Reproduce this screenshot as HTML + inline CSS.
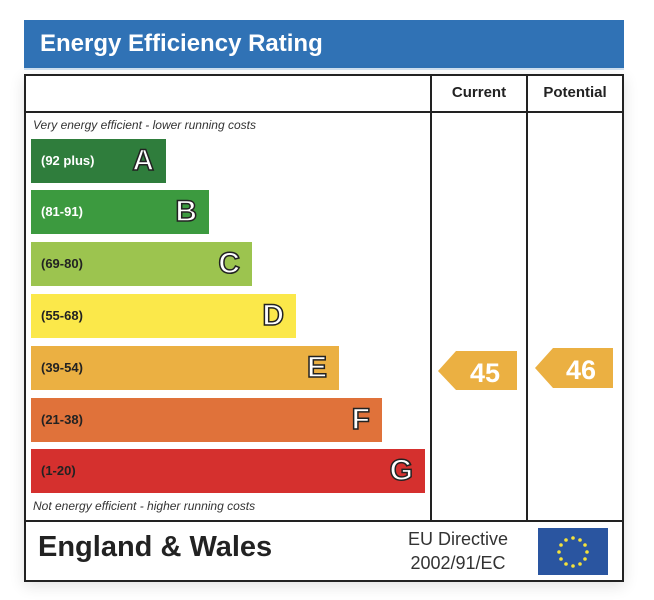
<!DOCTYPE html>
<html><head><style>
body{margin:0;width:654px;height:600px;background:#fff;font-family:"Liberation Sans",sans-serif;position:relative;overflow:hidden}
.a{position:absolute}
.hdr{left:24px;top:20px;width:600px;height:48px;background:#3072b5;color:#fff;font-size:24px;font-weight:bold;line-height:48px;box-sizing:border-box;padding-left:16px;box-shadow:0 2px 0 #cfe0f0}
.tbl{left:24px;top:74px;width:600px;height:508px;border:2px solid #222;box-sizing:border-box;box-shadow:0 4px 14px rgba(0,0,0,.12)}
.v{width:2px;background:#222;top:74px;height:448px}
.h{height:2px;background:#222;left:24px;width:600px}
.bar{left:31px;height:44px;color:#fff;font-size:13px;font-weight:bold}
.bar span{position:absolute;left:10px;top:14px}
.bar b{position:absolute;right:12px;top:5px;font-size:30px;color:#fff;-webkit-text-stroke:1.5px #222;font-weight:bold}
.it{font-style:italic;font-size:12px;color:#333;left:33px}
.col{font-size:15px;font-weight:bold;color:#222;top:84px;width:96px;text-align:center}
</style></head><body>
<div class="a hdr">Energy Efficiency Rating</div>
<div class="a tbl"></div>
<div class="a v" style="left:430px"></div>
<div class="a v" style="left:526px"></div>
<div class="a h" style="top:111px"></div>
<div class="a h" style="top:520px"></div>
<div class="a col" style="left:431px">Current</div>
<div class="a col" style="left:527px">Potential</div>
<div class="a it" style="top:118px">Very energy efficient - lower running costs</div>
<div class="a it" style="top:499px">Not energy efficient - higher running costs</div>
<div class="a bar" style="top:139px;width:135px;background:#2f7d3c"><span>(92 plus)</span><b>A</b></div>
<div class="a bar" style="top:190px;width:178px;background:#3c9a3f"><span>(81-91)</span><b>B</b></div>
<div class="a bar" style="top:242px;width:221px;background:#9cc44f;color:#222"><span>(69-80)</span><b>C</b></div>
<div class="a bar" style="top:294px;width:265px;background:#fbe84a;color:#222"><span>(55-68)</span><b>D</b></div>
<div class="a bar" style="top:346px;width:308px;background:#ebb042;color:#222"><span>(39-54)</span><b>E</b></div>
<div class="a bar" style="top:398px;width:351px;background:#e0723a;color:#222"><span>(21-38)</span><b>F</b></div>
<div class="a bar" style="top:449px;width:394px;background:#d5302e;color:#222"><span>(1-20)</span><b>G</b></div>
<svg class="a" style="left:0;top:0" width="654" height="600">
<polygon points="438,371 456,351 517,351 517,390 456,390" fill="#ebb042"/>
<text x="485" y="382" fill="#fff" font-family="Liberation Sans" font-weight="bold" font-size="27" text-anchor="middle">45</text>
<polygon points="535,368 553,348 613,348 613,388 553,388" fill="#ebb042"/>
<text x="581" y="379" fill="#fff" font-family="Liberation Sans" font-weight="bold" font-size="27" text-anchor="middle">46</text>
<rect x="538" y="528" width="70" height="47" fill="#2a55a0"/>
<g fill="#f5e23a">
<circle cx="573" cy="538" r="1.8"/><circle cx="580" cy="540" r="1.8"/><circle cx="585" cy="545" r="1.8"/><circle cx="587" cy="552" r="1.8"/><circle cx="585" cy="559" r="1.8"/><circle cx="580" cy="564" r="1.8"/><circle cx="573" cy="566" r="1.8"/><circle cx="566" cy="564" r="1.8"/><circle cx="561" cy="559" r="1.8"/><circle cx="559" cy="552" r="1.8"/><circle cx="561" cy="545" r="1.8"/><circle cx="566" cy="540" r="1.8"/>
</g>
</svg>
<div class="a" style="left:38px;top:531px;font-size:29px;font-weight:bold;color:#222">England &amp; Wales</div>
<div class="a" style="left:408px;top:527px;font-size:18px;color:#333;text-align:center;line-height:24px">EU Directive<br>2002/91/EC</div>
</body></html>
